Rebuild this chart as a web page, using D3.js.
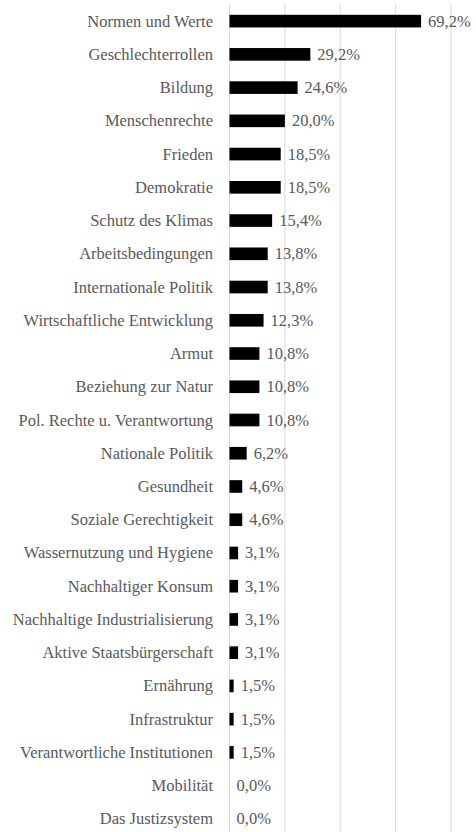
<!DOCTYPE html>
<html><head><meta charset="utf-8">
<script src="https://cdn.jsdelivr.net/npm/d3@7"></script>
<style>body{margin:0;background:#fff}</style>
</head><body>
<svg id="c" width="476" height="832"></svg>
<script>
const categories = ["Normen und Werte","Geschlechterrollen","Bildung","Menschenrechte","Frieden","Demokratie","Schutz des Klimas","Arbeitsbedingungen","Internationale Politik","Wirtschaftliche Entwicklung","Armut","Beziehung zur Natur","Pol. Rechte u. Verantwortung","Nationale Politik","Gesundheit","Soziale Gerechtigkeit","Wassernutzung und Hygiene","Nachhaltiger Konsum","Nachhaltige Industrialisierung","Aktive Staatsbürgerschaft","Ernährung","Infrastruktur","Verantwortliche Institutionen","Mobilität","Das Justizsystem"];
const values = [69.2,29.2,24.6,20.0,18.5,18.5,15.4,13.8,13.8,12.3,10.8,10.8,10.8,6.2,4.6,4.6,3.1,3.1,3.1,3.1,1.5,1.5,1.5,0.0,0.0];
const xTicks = [0,20,40,60,80];

const svg = d3.select("#c");
const x = d3.scaleLinear().domain([0,80]).range([229.5,451]);
const y = d3.scaleBand().domain(categories).range([4.5,835.5]).paddingInner(0.62).paddingOuter(0.31);

svg.append("g").selectAll("line").data(xTicks).join("line")
  .attr("x1",d=>x(d)).attr("x2",d=>x(d)).attr("y1",4).attr("y2",832)
  .attr("stroke","#d9d9d9").attr("stroke-width",1);

svg.append("g").selectAll("rect").data(values).join("rect")
  .attr("x",x(0)).attr("y",(d,i)=>y(categories[i]))
  .attr("width",d=>x(d)-x(0)).attr("height",y.bandwidth())
  .attr("fill","#000");

svg.append("g").selectAll("text").data(categories).join("text")
  .attr("x",213).attr("y",d=>y(d)+y.bandwidth()/2+5.5)
  .attr("text-anchor","end")
  .style("font-family",'"Liberation Serif"').style("font-size","16.5px")
  .style("fill","#595959").text(d=>d);

svg.append("g").selectAll("text").data(values).join("text")
  .attr("x",d=>x(d)+7).attr("y",(d,i)=>y(categories[i])+y.bandwidth()/2+5.5)
  .style("font-family",'"Liberation Serif"').style("font-size","16.5px")
  .style("fill","#595959").text(d=>d.toFixed(1).replace(".",",")+"%");
</script>
</body></html>
